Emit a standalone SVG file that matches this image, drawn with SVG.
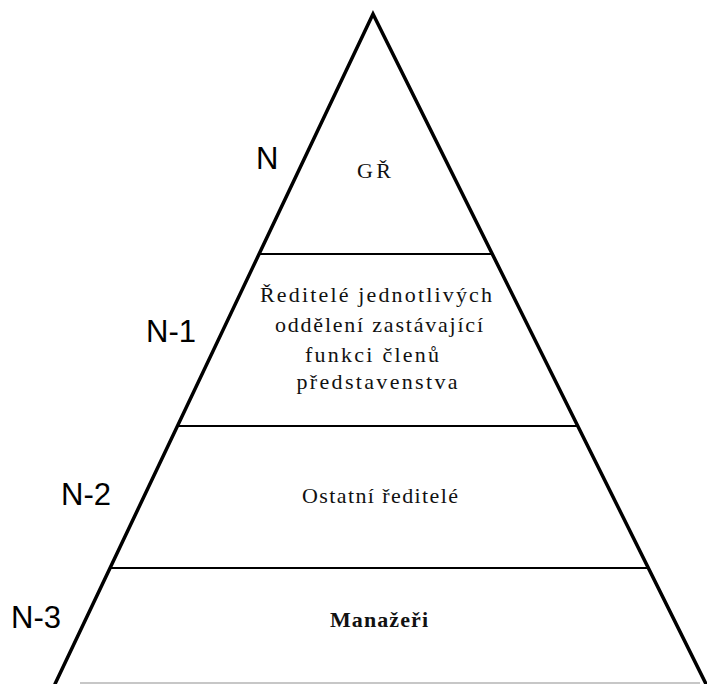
<svg xmlns="http://www.w3.org/2000/svg" width="707" height="684" viewBox="0 0 707 684">
  <style>
    .side { stroke: #000; stroke-width: 3.5; fill: none; stroke-linecap: round; }
    .tier { stroke: #000; stroke-width: 2; fill: none; }
    .base { stroke: #b5b5b5; stroke-width: 1.5; fill: none; }
    .lvl { font-family: "Liberation Sans", Arial, sans-serif; font-size: 31px; fill: #000; }
    .txt { font-family: "Liberation Serif", "Times New Roman", serif; font-size: 22px; fill: #111; text-anchor: middle; }
  </style>
  <rect width="707" height="684" fill="#fff"/>

  <!-- pyramid outline and tier dividers -->
  <g id="connectors">
    <line class="base" x1="80" y1="683" x2="700" y2="683"/>
    <polyline class="side" points="55,684 373,14 706,684"/>
    <line class="tier" x1="259" y1="254" x2="492" y2="254"/>
    <line class="tier" x1="177" y1="426" x2="578" y2="426"/>
    <line class="tier" x1="110" y1="568" x2="648" y2="568"/>
  </g>

  <!-- level labels -->
  <g id="level-n"><text class="lvl" x="256" y="169">N</text></g>
  <g id="level-n1"><text class="lvl" x="146" y="342">N-1</text></g>
  <g id="level-n2"><text class="lvl" x="61" y="505">N-2</text></g>
  <g id="level-n3"><text class="lvl" x="11" y="628">N-3</text></g>

  <!-- tier contents -->
  <g id="tier-gr">
    <text class="txt" x="374" y="178" font-size="20" textLength="34" lengthAdjust="spacing">GŘ</text>
  </g>
  <g id="tier-board">
    <text class="txt" x="376" y="302" textLength="232" lengthAdjust="spacing">Ředitelé jednotlivých</text>
    <text class="txt" x="379" y="332" textLength="208" lengthAdjust="spacing">oddělení zastávající</text>
    <text class="txt" x="372" y="362" textLength="134" lengthAdjust="spacing">funkci členů</text>
    <text class="txt" x="377" y="389" textLength="161" lengthAdjust="spacing">představenstva</text>
  </g>
  <g id="tier-directors">
    <text class="txt" x="380" y="503" font-size="21" textLength="156" lengthAdjust="spacing">Ostatní ředitelé</text>
  </g>
  <g id="tier-managers">
    <text class="txt" x="379" y="627" font-size="21" textLength="98" lengthAdjust="spacing" font-weight="bold">Manažeři</text>
  </g>
</svg>
